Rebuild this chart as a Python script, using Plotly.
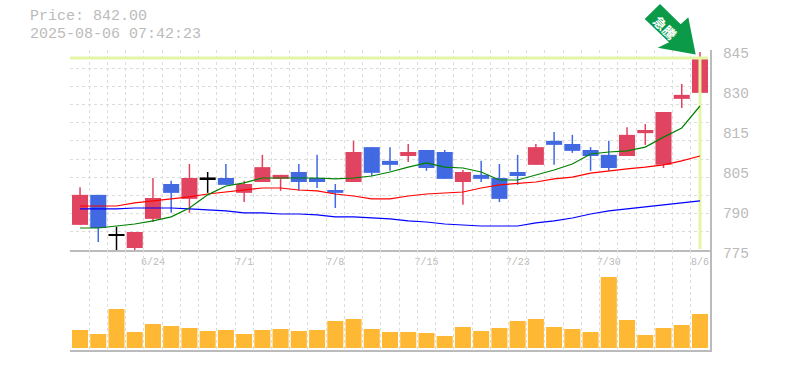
import plotly.graph_objects as go

last_price_text = "Price: 842.00"
timestamp_text = "2025-08-06 07:42:23"
dates = ["6/18","6/19","6/20","6/23","6/24","6/25","6/26","6/27","6/30","7/1","7/2","7/3","7/4","7/7","7/8",
         "7/9","7/10","7/11","7/14","7/15","7/16","7/17","7/18","7/22","7/23","7/24","7/25","7/28","7/29","7/30",
         "7/31","8/1","8/4","8/5","8/6"]
date_ticks = ["6/24","7/1","7/8","7/15","7/23","7/30","8/6"]
opens = [783.8,794.3,779.9,775.7,785.9,798.1,792.9,799.8,800.2,795,798.8,799.9,802.3,800.2,796,798.8,811,806.2,807.9,810,
         809.3,798.8,801.3,800.2,802.3,804.8,813.2,812.1,810,808.3,807.9,815.9,804.8,827.9,830]
highs = [797,794.3,783.1,781.3,800.2,799.2,805.1,802.3,805.1,799.2,808.3,801.3,805.1,808.3,798.1,813.2,811,811,812.1,810,
         810,803,806.2,805.1,808.3,812.1,816.3,815.3,811,813.2,818,819.1,823.3,833.1,844.3]
lows = [783.8,777.8,774.8,774.8,784.8,788,788,795,797.8,791.8,798.8,795.7,795.7,796.7,789.7,798.8,800.9,802.7,805.8,802.7,
        799.9,790.8,798.8,791.8,797.8,804.8,804.8,809,802.7,802.7,807.9,811.8,803.7,824.7,827.9]
closes = [794.3,782.7,780.5,781.3,793.2,795,800.2,800.4,797.8,798.1,804,801.3,798.8,798.8,795,809.3,802,804.8,809.3,803.7,
          799.9,802.3,799.9,792.9,800.9,811,811.8,809.7,807.9,803.7,815.3,817,823.3,829.3,842.2]
doji_days = ["6/20","6/27"]
ma_short = [782.7,782.7,783.4,784.1,785.2,786.6,789.7,794.3,797.4,798.5,800.2,800.2,800.2,800.2,799.9,800.2,800.9,802.3,
            804,805.5,804,803.7,802.3,799.5,799.5,801.3,803,805.1,808.6,809.3,809.7,811,814.5,817.7,825.4]
ma_mid = [790.4,790.4,790.4,791.5,792.2,792.9,793.6,794.6,795.3,796,796.7,796.7,796,795.7,794.6,793.9,792.9,792.9,793.9,
          794.6,795,795.3,796.7,797.8,798.3,798.8,799.9,800.5,801.9,802.7,803.4,804,804.8,806.2,807.9]
ma_long = [789.4,789.4,789.4,789.7,789.7,789.7,789.4,789,788.7,788,788,787.6,787.6,787.3,786.6,786.6,786.2,785.9,785.2,
           784.8,784.1,783.8,783.4,783.4,783.4,784.5,785.2,786.2,787.6,788.7,789.4,790.1,790.8,791.5,792.2]
volumes = [18,14,39,16,24,22,20,17,18,14,18,19,17,18,27,29,19,16,16,15,12,21,17,20,27,29,21,19,16,71,28,13,20,23,34]
price_ticks = [845,831,817,803,789,775]
price_tick_text = ["845","830","815","805","790","775"]
arrow_label = "急騰"

UP, DOWN, DOJI = "#e04460", "#4169e1", "#000000"
GRID, AXIS, TXT = "#dddddd", "#bbbbbb", "#bbbbbb"
MONO = "Liberation Mono, monospace"
DASH = "3px,3px"
x = list(range(len(dates)))
XR = [-0.55, 34.55]
PR = [775, 845]

fig = go.Figure()
fig.add_trace(go.Scatter(x=[XR[0], 34.45], y=[closes[-1]]*2, mode="lines", line=dict(color="#e4f5a8", width=3),
                         xaxis="x", yaxis="y", hoverinfo="skip"))
fig.add_trace(go.Scatter(x=[34, 34], y=[closes[-1], 775.3], mode="lines", line=dict(color="#e4f5a8", width=3),
                         xaxis="x", yaxis="y", hoverinfo="skip"))
for vals, col in ((ma_long, "#0000ff"), (ma_mid, "#ff0000"), (ma_short, "#008000")):
    fig.add_trace(go.Scatter(x=x, y=vals, mode="lines", line=dict(color=col, width=1.2), xaxis="x", yaxis="y"))

def group(idx, color):
    tops = [max(opens[i], closes[i]) for i in idx]
    bots = [min(opens[i], closes[i]) for i in idx]
    fig.add_trace(go.Bar(
        x=idx, y=[t - b for t, b in zip(tops, bots)], base=bots, width=0.88,
        marker=dict(color=color, line=dict(width=0)), xaxis="x", yaxis="y",
        error_y=dict(type="data", symmetric=False, color=color, thickness=1.5, width=0,
                     array=[highs[i] - t for i, t in zip(idx, tops)],
                     arrayminus=[t - lows[i] for i, t in zip(idx, tops)]),
    ))

doji = [i for i in x if dates[i] in doji_days]
group([i for i in x if closes[i] > opens[i] and i not in doji], UP)
group([i for i in x if closes[i] < opens[i] and i not in doji], DOWN)
group(doji, DOJI)

fig.add_trace(go.Bar(x=x, y=volumes, width=0.88, marker=dict(color="#ffb833", line=dict(width=0)),
                     xaxis="x2", yaxis="y2"))

minor_x = dict(tickmode="linear", tick0=-0.5, dtick=1, showgrid=True, gridcolor=GRID, griddash=DASH, gridwidth=1, ticks="")
fig.update_layout(
    width=785, height=373, showlegend=False, barmode="overlay", plot_bgcolor="white", paper_bgcolor="white",
    margin=dict(l=70, r=75, t=50, b=23), autosize=False,
    xaxis=dict(domain=[0, 1], range=XR, anchor="y", tickmode="array", tickvals=[dates.index(d) for d in date_ticks],
               ticktext=date_ticks, showgrid=False, minor=minor_x, zeroline=False, ticks="",
               tickfont=dict(family=MONO, size=10, color=TXT), showline=True, linecolor=AXIS, linewidth=2, ticklabelstandoff=1),
    yaxis=dict(domain=[1/3, 1], range=PR, side="right", anchor="x", tickmode="array", tickvals=price_ticks,
               ticktext=price_tick_text, showgrid=False, zeroline=False, ticks="",
               minor=dict(tickmode="linear", tick0=775, dtick=70/11, showgrid=True, gridcolor=GRID, griddash=DASH, gridwidth=1, ticks=""),
               tickfont=dict(family=MONO, size=14.5, color=TXT), showline=True, linecolor=AXIS, linewidth=2,
               ticklabelshift=3, ticklabelstandoff=8),
    xaxis2=dict(domain=[0, 1], range=XR, anchor="y2", showticklabels=False, showgrid=False, minor=minor_x, zeroline=False, ticks="",
                showline=True, linecolor=AXIS, linewidth=2),
    yaxis2=dict(domain=[0, 1/3], range=[-2, 98], side="right", anchor="x2", showticklabels=False, showgrid=False,
                zeroline=False, ticks="", showline=True, linecolor=AXIS, linewidth=2),
    shapes=[dict(type="path", xref="paper", yref="paper", xsizemode="pixel", ysizemode="pixel",
                 xanchor=630/640, yanchor=1-8.6/300,
                 path="M -4.3 4.2 L -11.7 41.3 L -19.3 34.3 L -40 54.6 L -55.3 39.6 L -31 16.3 L -42.3 10.9 Z",
                 fillcolor="#0a9a48", line=dict(width=0), layer="above")],
    annotations=[
        dict(text=last_price_text, xref="paper", yref="paper", x=-42/640, y=1+33/300, xanchor="left", yanchor="middle",
             showarrow=False, font=dict(family=MONO, size=15, color=TXT)),
        dict(text=timestamp_text, xref="paper", yref="paper", x=-42/640, y=1+16/300, xanchor="left", yanchor="middle",
             showarrow=False, font=dict(family=MONO, size=15, color=TXT)),
        dict(text="<b>" + arrow_label + "</b>", xref="paper", yref="paper", x=630/640, y=1-8.6/300, xshift=-35, yshift=31,
             textangle=45, showarrow=False, xanchor="center", yanchor="middle",
             font=dict(family="Noto Sans CJK JP", size=13, color="#ffffff")),
    ],
)
fig.write_html("out.html", config={"displayModeBar": False},
               post_script="document.documentElement.style.overflow='hidden';document.body.style.margin='0';")
